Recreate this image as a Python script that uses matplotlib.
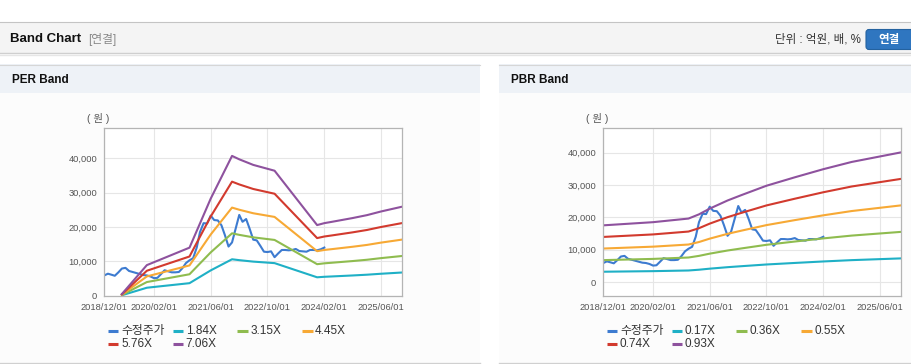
import numpy as np
import pandas as pd
import matplotlib
matplotlib.use('Agg')
import matplotlib.pyplot as plt
from matplotlib.patches import Rectangle, FancyBboxPatch
from matplotlib.ticker import FuncFormatter

plt.rcParams['font.family'] = ['Liberation Sans', 'Noto Sans CJK KR']

W, H = 912, 364

# monthly adjusted price, 2018/12 .. 2024/02
price_dates = pd.date_range('2018-12-01', periods=63, freq='MS')
price = [5900, 6400, 6100, 5800, 6800, 7900, 8100, 7200, 6900, 6600,
         6300, 6000, 5900, 5600, 5100, 5200, 6300, 7400, 7100, 6800,
         6800, 6900, 8000, 9500, 10300, 10900, 14000, 18500, 21100, 21000,
         23300, 22000, 21900, 20500, 17600, 14300, 15500, 19500, 23500, 21500,
         22300, 19500, 16300, 16100, 14500, 12800, 12700, 12900, 11200, 12300,
         13300, 13300, 13200, 13300, 13600, 13000, 12900, 12800, 13300, 13300,
         13200, 13500, 14000]

# PER band: EPS base and multiples
per_dates = ['2019-05-01', '2019-12-01', '2020-12-01', '2021-06-01', '2021-12-01',
             '2022-02-01', '2022-06-01', '2022-12-01', '2023-12-01', '2024-02-01',
             '2024-04-01', '2024-10-01', '2025-02-01', '2025-06-01', '2025-12-01']
per_eps = [70, 1260, 1980, 4000, 5760, 5620, 5390, 5150, 2910, 2990,
           3040, 3200, 3320, 3470, 3670]
per_mult = [1.84, 3.15, 4.45, 5.76, 7.06]

# PBR band: BPS base and multiples
pbr_dates = ['2018-12-01', '2020-02-01', '2020-12-01', '2021-03-01', '2021-06-01',
             '2021-11-01', '2022-03-01', '2022-10-01', '2023-06-01', '2024-02-01',
             '2024-10-01', '2025-12-01']
pbr_bps = [18850, 19900, 21100, 22500, 24400, 27100, 28900, 32000, 34800, 37500,
           39900, 43100]
pbr_mult = [0.17, 0.36, 0.55, 0.74, 0.93]

tick_dates = ['2018-12-01', '2020-02-01', '2021-06-01', '2022-10-01', '2024-02-01', '2025-06-01']
tick_labels = ['2018/12/01', '2020/02/01', '2021/06/01', '2022/10/01', '2024/02/01', '2025/06/01']

colors = ['#3d7bd0', '#1fb0c6', '#8fbc4f', '#f7a935', '#d23a2e', '#8e529e']


def fig_rect(x0, y0, x1, y1):
    return [x0 / W, 1 - y1 / H, (x1 - x0) / W, (y1 - y0) / H]


fig = plt.figure(figsize=(W / 100, H / 100), dpi=100)
fig.patch.set_facecolor('white')

bg = fig.add_axes([0, 0, 1, 1])
bg.set_xlim(0, W)
bg.set_ylim(H, 0)
bg.axis('off')

# header bar
bg.add_patch(Rectangle((0, 22), W, 31, facecolor='#f4f4f4', edgecolor='none'))
bg.plot([0, W], [22, 22], color='#c4c4c4', lw=0.8)
bg.plot([0, W], [53, 53], color='#cfcfcf', lw=1.0)
bg.plot([0, W], [54.5, 54.5], color='#e6e6e6', lw=1.0)
bg.text(10, 39, 'Band Chart', fontsize=9.5, fontweight='bold', va='center', color='#111')
bg.text(88, 39, '[연결]', fontsize=8.5, va='center', color='#888')
bg.text(861, 39, '단위 : 억원, 배, %', fontsize=8.3, va='center', ha='right', color='#333')
bg.add_patch(FancyBboxPatch((866, 29.5), 50, 20, boxstyle='round,pad=0,rounding_size=3',
                            facecolor='#2f76c0', edgecolor='#24629f', lw=0.8))
bg.text(889, 39.5, '연결', fontsize=8.3, fontweight='bold', va='center', ha='center', color='white')

# panels
for x0, x1, title in [(0, 480, 'PER Band'), (499, W, 'PBR Band')]:
    bg.add_patch(Rectangle((x0, 93), x1 - x0, 269, facecolor='#fcfcfc', edgecolor='none'))
    bg.add_patch(Rectangle((x0, 64), x1 - x0, 29, facecolor='#eef2f7', edgecolor='none'))
    bg.plot([x0, x1], [64.5, 64.5], color='#d6d6d6', lw=0.8)
    bg.plot([x0, x1], [362.5, 362.5], color='#d0d0d0', lw=1.0)
    bg.text(x0 + 12, 80, title, fontsize=8.5, fontweight='bold', va='center', color='#111')


def draw_chart(left, base_dates, base, mults, names, ylim):
    ax = fig.add_axes(fig_rect(left, 128.3, left + 298, 295.7))
    ax.set_facecolor('white')
    ax.plot(price_dates, price, color=colors[0], lw=1.5, zorder=2)
    bd = pd.to_datetime(base_dates)
    for m, c in zip(mults, colors[1:]):
        ax.plot(bd, np.array(base) * m, color=c, lw=1.5, zorder=2)
    ax.set_xlim(pd.Timestamp('2018-12-01'), pd.Timestamp('2025-12-01'))
    ax.set_ylim(*ylim)
    ax.set_xticks(pd.to_datetime(tick_dates))
    ax.set_xticklabels(tick_labels)
    ax.set_yticks([0, 10000, 20000, 30000, 40000])
    ax.yaxis.set_major_formatter(FuncFormatter(lambda v, p: f'{int(v):,}'))
    ax.tick_params(length=0, labelsize=6.7, labelcolor='#555', pad=5)
    ax.grid(True, color='#e6e6e6', lw=0.8, zorder=0)
    for s in ax.spines.values():
        s.set_color('#b4b4b4')
        s.set_linewidth(0.9)
    bg.text(left - 6, 118, '( 원 )', fontsize=7.5, va='center', ha='center', color='#555')

    # legend
    for i, (name, c) in enumerate(zip(names, colors)):
        row, col = divmod(i, 4)
        x0 = left + 3.7 + col * 64.7
        y = 330.7 + row * 13.3
        bg.plot([x0, x0 + 10.5], [y, y], color=c, lw=2.2, solid_capstyle='butt')
        bg.text(x0 + 13, y, name, fontsize=8.5, va='center', color='#333')
    return ax


draw_chart(104.3, per_dates, per_eps, per_mult,
           ['수정주가'] + [f'{m:.2f}X' for m in per_mult], (0, 48700))
draw_chart(603.3, pbr_dates, pbr_bps, pbr_mult,
           ['수정주가'] + [f'{m:.2f}X' for m in pbr_mult], (-4200, 47500))

fig.savefig('out.png', dpi=100)
